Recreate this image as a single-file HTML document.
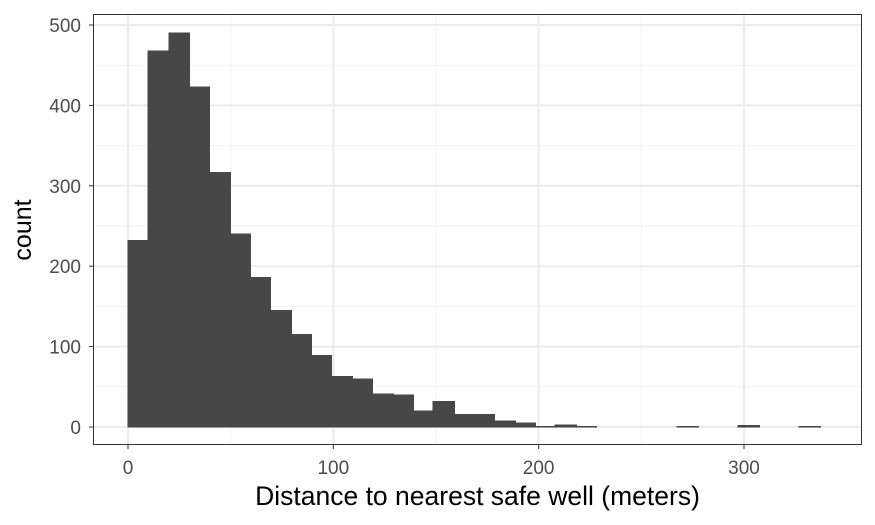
<!DOCTYPE html>
<html><head><meta charset="utf-8"><style>
body{margin:0;background:#fff;}
svg{display:block;font-family:"Liberation Sans",Arial,sans-serif;}
</style></head><body>
<svg id="chart" width="875" height="525" xmlns="http://www.w3.org/2000/svg"></svg>
<script>
const counts=[232,468,490,423,317,240,186,145,115,89,63,60,41,40,20,32,16,16,8,5,1,3,1,0,0,0,0,1,0,0,2,0,0,1];
const binWidth=9.91;
const xTicks=[0,100,200,300];
const yTicks=[0,100,200,300,400,500];
const xMinor=[50,150,250];
const yMinor=[50,150,250,350,450];
const NS='http://www.w3.org/2000/svg';
const svg=document.getElementById('chart');
const L=93,R=862,T=14,B=445;
const X=v=>128+v*2.0533;
const Y=v=>427-v*0.804;
function mk(tag,attrs,parent){const e=document.createElementNS(NS,tag);for(const k in attrs)e.setAttribute(k,attrs[k]);(parent||svg).appendChild(e);return e;}
const panel=mk('rect',{x:L,y:T,width:R-L,height:B-T,fill:'#fff'});


const grid=mk('g',{});


xMinor.forEach(v=>mk('line',{x1:X(v),x2:X(v),y1:T,y2:B,stroke:'#f2f2f2','stroke-width':1},grid));
yMinor.forEach(v=>mk('line',{x1:L,x2:R,y1:Y(v),y2:Y(v),stroke:'#f2f2f2','stroke-width':1},grid));
xTicks.forEach(v=>mk('line',{x1:X(v),x2:X(v),y1:T,y2:B,stroke:'#ebebeb','stroke-width':2},grid));
yTicks.forEach(v=>mk('line',{x1:L,x2:R,y1:Y(v),y2:Y(v),stroke:'#ebebeb','stroke-width':2},grid));
const bars=mk('g',{'shape-rendering':'crispEdges'});


counts.forEach((c,i)=>{
  if(c<=0)return;
  const x0=Math.round(X(i*binWidth)),x1=Math.round(X((i+1)*binWidth));
  const r=mk('rect',{x:x0,y:Y(c),width:x1-x0+0.6,height:Y(0)-Y(c),fill:'#474747',stroke:'#474747','stroke-width':0.6},bars);
  
  
});
const border=mk('rect',{x:L+0.5,y:T+0.5,width:R-L-1,height:B-T-1,fill:'none',stroke:'#333','stroke-width':1});


xTicks.forEach(v=>{
  mk('line',{x1:X(v),x2:X(v),y1:B,y2:B+4,stroke:'#333'});
  const t=mk('text',{x:X(v),y:B+29,'text-anchor':'middle','font-size':19,fill:'#4d4d4d'});
  t.textContent=v;
  
  
});
yTicks.forEach(v=>{
  mk('line',{x1:L-4,x2:L,y1:Y(v),y2:Y(v),stroke:'#333'});
  const t=mk('text',{x:L-12,y:Y(v)+7,'text-anchor':'end','font-size':19,fill:'#4d4d4d'});
  t.textContent=v;
  
  
});
const xt=mk('text',{x:(L+R)/2,y:505,'text-anchor':'middle','font-size':26.5,fill:'#000'});
xt.textContent='Distance to nearest safe well (meters)';


const yt=mk('text',{x:0,y:0,'text-anchor':'middle','font-size':25,fill:'#000',transform:'translate(31,230) rotate(-90)'});
yt.textContent='count';


</script>
</body></html>
